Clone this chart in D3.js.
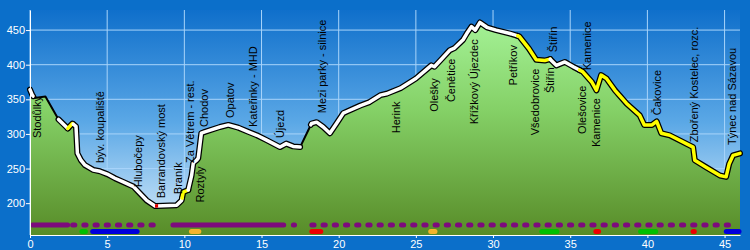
<!DOCTYPE html>
<html>
<head>
<meta charset="utf-8">
<script src="https://cdn.jsdelivr.net/npm/d3@7"></script>
<style>
    body { margin: 0; background: #0b6fca; }
    svg { display: block; font-family: "Liberation Sans", Arial, sans-serif; }
    .axis text { fill: #fff; font-size: 11px; }
    .axis path, .axis line { stroke: #fff; }
    .place { font-size: 11px; fill: #000; }
</style>
</head>
<body>
<svg id="chart" width="750" height="250"></svg>
<script>
// distance along the route (km) and altitude (m)
let profileKm = [0, 0.15, 0.3, 1.0, 1.85, 2.45, 2.75, 2.98, 3.07, 3.3, 3.56, 4.1, 4.53, 5.0, 5.5, 6.0, 6.7, 7.0,
    7.56, 8.1, 8.2, 9.5, 9.82, 9.93, 10.25, 10.47, 10.58, 10.8, 10.9, 11.1, 11.33, 12.3, 12.85, 13.5, 14.14, 14.7,
    15.33, 16.2, 16.6, 17.05, 17.5, 18.24, 18.57, 19.0, 19.43, 19.86, 20.3, 20.5, 21.4, 22.0, 22.7, 23.1, 24.0,
    25.0, 26.0, 26.2, 26.7, 27.2, 27.5, 28.06, 28.3, 28.6, 28.85, 29.15, 29.6, 30.2, 31.1, 31.7, 32.3, 32.8, 33.35,
    33.7, 34.1, 34.65, 35.2, 35.8, 36.4, 36.7, 37.0, 37.35, 37.9, 38.65, 39.5, 39.8, 40.3, 40.6, 40.9, 41.45,
    42.96, 43.07, 43.8, 44.7, 45.1, 45.3, 45.55, 46.0];
let profileEle = [364, 356, 352, 354, 321, 308, 315, 311, 272, 262, 255, 248, 246, 242, 236, 231, 224, 217,
    204, 196, 196, 197, 204, 216, 219, 240, 258, 262, 265, 301, 303, 310, 313, 309, 303, 298,
    291, 281, 286, 282, 281, 315, 317, 310, 301, 315, 330, 332, 341, 346, 356, 358, 366,
    380, 399, 397, 409, 421, 424, 436, 445, 455, 450, 461, 454, 450, 445, 441, 424, 407, 406,
    408, 399, 404, 397, 390, 375, 363, 385, 380, 363, 344, 327, 313, 313, 318, 301, 298,
    281, 262, 252, 240, 238, 257, 269, 272];

// how each stretch of the route is drawn
let segFrom = [0, 0.2, 1.85, 2.45, 2.8, 9.85, 10.25, 17.5, 18.2, 31.6, 33.7, 35.6];
let segTo   = [0.2, 1.85, 2.45, 2.8, 9.85, 10.25, 17.5, 18.2, 31.6, 33.7, 35.6, 46];
let segKind = ["white", "black", "white", "yellow", "white", "yellow", "white", "black", "white", "yellow", "white", "yellow"];

// place names along the route
let placeNames = ["Stodůlky", "býv. koupaliště", "Hlubočepy", "Barrandovský most", "Braník", "Za Větrem - rest.",
    "Roztyly", "Chodov", "Opatov", "Kateřinky - MHD", "Újezd", "Mezi parky - silnice", "Herink", "Olešky",
    "Čenětice", "Křížkový Újezdec", "Petříkov", "Všedobrovice", "Štiřín", "Štiřín", "Olešovice", "Kamenice",
    "Kamenice", "Čakovice", "Zbořený Kostelec, rozc.", "Týnec nad Sázavou"];
let placeKm = [0.45, 4.53, 7.0, 8.5, 9.6, 10.4, 11.0, 11.3, 12.95, 14.45, 16.2, 18.9, 23.7, 26.2,
    27.3, 28.8, 31.3, 32.7, 33.7, 33.9, 35.75, 36.1, 36.7, 40.6, 43.05, 45.5];
let placeEle = [294, 258, 223, 207, 213, 258, 201, 310, 323, 310, 294, 330, 301, 332,
    346, 314, 370, 298, 359, 418, 300, 392, 281, 327, 288, 284];

// road type strip (upper) and marked trails (lower)
let roadFrom = [0, 2.6, 9.1, 16.9, 18.1];
let roadTo   = [2.6, 8.4, 16.6, 17.3, 45.8];
let roadKind = ["solid", "dashed", "solid", "dashed", "dashed"];
let trailFrom  = [3.2, 3.9, 10.3, 18.1, 25.8, 33.0, 36.5, 39.4, 42.8, 44.95];
let trailTo    = [3.75, 7.1, 11.1, 19.0, 26.4, 34.3, 37.0, 40.7, 43.2, 46.1];
let trailColor = ["green", "blue", "orange", "red", "orange", "green", "red", "green", "red", "blue"];

let xTicks = [0, 5, 10, 15, 20, 25, 30, 35, 40, 45];
let yTicks = [200, 250, 300, 350, 400, 450];

let width = 750, height = 250;
let margin = {top: 10, right: 10, bottom: 15, left: 30};
let plotBottom = height - margin.bottom;

let x = d3.scaleLinear().domain([0, 46]).range([margin.left, width - margin.right]);
let y = d3.scaleLinear().domain([154, 479]).range([plotBottom, margin.top]);

let svg = d3.select("#chart");
let defs = svg.append("defs");

let sky = defs.append("linearGradient").attr("id", "sky")
    .attr("gradientUnits", "userSpaceOnUse")
    .attr("x1", 0).attr("y1", margin.top).attr("x2", 0).attr("y2", plotBottom);
sky.append("stop").attr("offset", 0).attr("stop-color", "#0f6fcb");
sky.append("stop").attr("offset", 0.5).attr("stop-color", "#5ba8e6");
sky.append("stop").attr("offset", 1).attr("stop-color", "#dceefb");

let grass = defs.append("linearGradient").attr("id", "grass")
    .attr("gradientUnits", "userSpaceOnUse")
    .attr("x1", 0).attr("y1", margin.top).attr("x2", 0).attr("y2", plotBottom);
grass.append("stop").attr("offset", 0).attr("stop-color", "#a8f69c");
grass.append("stop").attr("offset", 0.45).attr("stop-color", "#84d066");
grass.append("stop").attr("offset", 1).attr("stop-color", "#588c28");

svg.append("rect").attr("width", width).attr("height", height).attr("fill", "#0b6fca");
svg.append("rect")
    .attr("x", margin.left).attr("y", margin.top)
    .attr("width", width - margin.left - margin.right)
    .attr("height", plotBottom - margin.top)
    .attr("fill", "url(#sky)");

// grid
svg.append("g").selectAll("line").data(yTicks).join("line")
    .attr("x1", margin.left).attr("x2", width - margin.right)
    .attr("y1", d => y(d)).attr("y2", d => y(d))
    .attr("stroke", "#a8d4fa").attr("stroke-width", 1);
svg.append("g").selectAll("line").data(xTicks).join("line")
    .attr("x1", d => x(d)).attr("x2", d => x(d))
    .attr("y1", margin.top).attr("y2", plotBottom)
    .attr("stroke", "#a8d4fa").attr("stroke-width", 1);

let profile = profileKm.map((k, i) => [k, profileEle[i]]);

function eleAt(k) {
    for (let i = 0; i < profile.length - 1; i++) {
        if (k >= profile[i][0] && k <= profile[i + 1][0]) {
            let t = (k - profile[i][0]) / (profile[i + 1][0] - profile[i][0]);
            return profile[i][1] + t * (profile[i + 1][1] - profile[i][1]);
        }
    }
    return profile[profile.length - 1][1];
}

function slice(a, b) {
    let pts = [[a, eleAt(a)]];
    profile.forEach(p => {
        if (p[0] > a && p[0] < b) pts.push(p);
    });
    pts.push([b, eleAt(b)]);
    return pts;
}

let area = d3.area().x(d => x(d[0])).y0(plotBottom).y1(d => y(d[1]));
svg.append("path").datum(profile).attr("d", area).attr("fill", "url(#grass)");

let line = d3.line().x(d => x(d[0])).y(d => y(d[1]));
let segs = segFrom.map((f, i) => ({pts: slice(f, segTo[i]), kind: segKind[i]}));

// black outline below, colour on top
svg.append("g").selectAll("path").data(segs).join("path")
    .attr("d", d => line(d.pts))
    .attr("fill", "none")
    .attr("stroke", "#000")
    .attr("stroke-width", d => d.kind === "black" ? 2 : 6)
    .attr("stroke-linejoin", "round")
    .attr("stroke-linecap", "round");
svg.append("g").selectAll("path").data(segs.filter(d => d.kind !== "black")).join("path")
    .attr("d", d => line(d.pts))
    .attr("fill", "none")
    .attr("stroke", d => d.kind === "yellow" ? "#ffff00" : "#ffffff")
    .attr("stroke-width", 3.5)
    .attr("stroke-linejoin", "round")
    .attr("stroke-linecap", "round");

// bridge marker
svg.append("path").datum(slice(8.1, 8.3)).attr("d", line)
    .attr("fill", "none").attr("stroke", "#e00000").attr("stroke-width", 3.5);

// place labels
svg.append("g").selectAll("text").data(placeNames).join("text")
    .attr("class", "place")
    .attr("transform", (d, i) => "translate(" + x(placeKm[i]) + "," + y(placeEle[i]) + ") rotate(-90)")
    .attr("dy", "0.35em")
    .text(d => d);

// strips at the bottom
let roadY = plotBottom - 10, trailY = plotBottom - 3.5;
let capR = 2.5;
svg.append("g").selectAll("line").data(roadFrom).join("line")
    .attr("x1", (d, i) => x(d) + capR).attr("x2", (d, i) => x(roadTo[i]) - capR)
    .attr("y1", roadY).attr("y2", roadY)
    .attr("stroke", "#7d0a7d").attr("stroke-width", 5)
    .attr("stroke-linecap", "round")
    .attr("stroke-dasharray", (d, i) => roadKind[i] === "dashed" ? "2.2,9" : null);

let trailColors = {green: "#00c000", blue: "#0000dc", orange: "#f5b42c", red: "#ee0000"};
svg.append("g").selectAll("line").data(trailFrom).join("line")
    .attr("x1", (d, i) => x(d) + capR).attr("x2", (d, i) => x(trailTo[i]) - capR)
    .attr("y1", trailY).attr("y2", trailY)
    .attr("stroke", (d, i) => trailColors[trailColor[i]]).attr("stroke-width", 5)
    .attr("stroke-linecap", "round");

// axes
svg.append("g").attr("class", "axis")
    .attr("transform", "translate(" + margin.left + ",0)")
    .call(d3.axisLeft(y).tickValues(yTicks).tickSize(4).tickPadding(1).tickSizeOuter(0));
svg.append("g").attr("class", "axis")
    .attr("transform", "translate(0," + plotBottom + ")")
    .call(d3.axisBottom(x).tickValues(xTicks).tickSize(3).tickPadding(2).tickSizeOuter(0));
</script>
</body>
</html>
